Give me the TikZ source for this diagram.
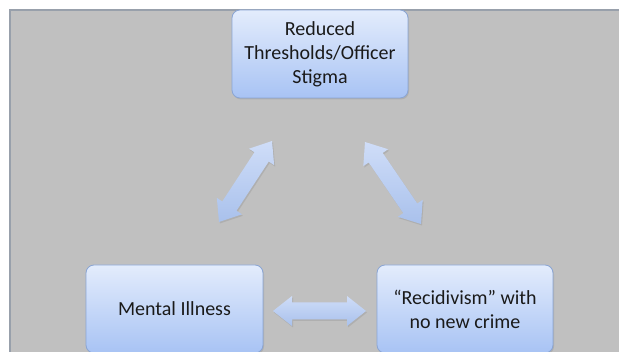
\documentclass[tikz,border=0pt]{standalone}
\usepackage{fontspec}
\setmainfont{Carlito}
\usetikzlibrary{calc,shadows}
\definecolor{bggray}{HTML}{C0C0C0}
\definecolor{bgedge}{HTML}{98A0AB}
\definecolor{boxtop}{HTML}{E3ECFC}
\definecolor{boxbot}{HTML}{A8C3F4}
\definecolor{boxline}{HTML}{8AA5D4}
\definecolor{arrtop}{HTML}{CFDDF8}
\definecolor{arrbot}{HTML}{A9C1EC}
\definecolor{txt}{HTML}{1A1A1A}
\tikzset{
  ideabox/.style={rectangle, rounded corners=8pt, draw=boxline, line width=0.8pt,
    top color=boxtop, bottom color=boxbot, minimum width=176pt, minimum height=88pt,
    align=center, font=\fontsize{20}{24}\selectfont, text=txt,
    drop shadow={opacity=0.25, shadow xshift=1pt, shadow yshift=-1.5pt}},
  blockarr/.style={top color=arrtop, bottom color=arrbot, draw=none,
    drop shadow={opacity=0.25, shadow xshift=1pt, shadow yshift=-1.5pt}}
}
\newcommand{\blockarrow}[2]{%
  \coordinate (ba1) at ($(#1)!19pt!(#2)$);
  \coordinate (ba2) at ($(#2)!19pt!(#1)$);
  \path[blockarr] (#1) -- ($(ba1)!15pt!90:(#2)$) -- ($(ba1)!8.5pt!90:(#2)$)
    -- ($(ba2)!8.5pt!-90:(#1)$) -- ($(ba2)!15pt!-90:(#1)$) -- (#2)
    -- ($(ba2)!15pt!90:(#1)$) -- ($(ba2)!8.5pt!90:(#1)$)
    -- ($(ba1)!8.5pt!-90:(#2)$) -- ($(ba1)!15pt!-90:(#2)$) -- cycle;}
\begin{document}
\begin{tikzpicture}[x=1pt,y=-1pt]
  \useasboundingbox (0,0) rectangle (619,352);
  \clip (0,0) rectangle (619,352);
  \fill[white] (0,0) rectangle (619,352);
  \fill[bggray] (9,9) rectangle (619,352);
  \draw[bgedge, line width=2.5pt] (10.2,352) -- (10.2,10.2) -- (619,10.2);

  \node[ideabox] (top) at (320,54) {Reduced\\Thresholds/Officer\\Stigma};
  \node[ideabox, minimum width=177pt] (mental) at (174.5,309) {Mental Illness};
  \node[ideabox] (recid) at (465,309) {“Recidivism” with\\no new crime};

  \coordinate (l1) at (219,222);
  \coordinate (l2) at (272,141);
  \coordinate (r1) at (365,142);
  \coordinate (r2) at (421,224);
  \coordinate (h1) at (273,311);
  \coordinate (h2) at (366,311);
  \blockarrow{l1}{l2}
  \blockarrow{r1}{r2}
  \blockarrow{h1}{h2}
\end{tikzpicture}
\end{document}
